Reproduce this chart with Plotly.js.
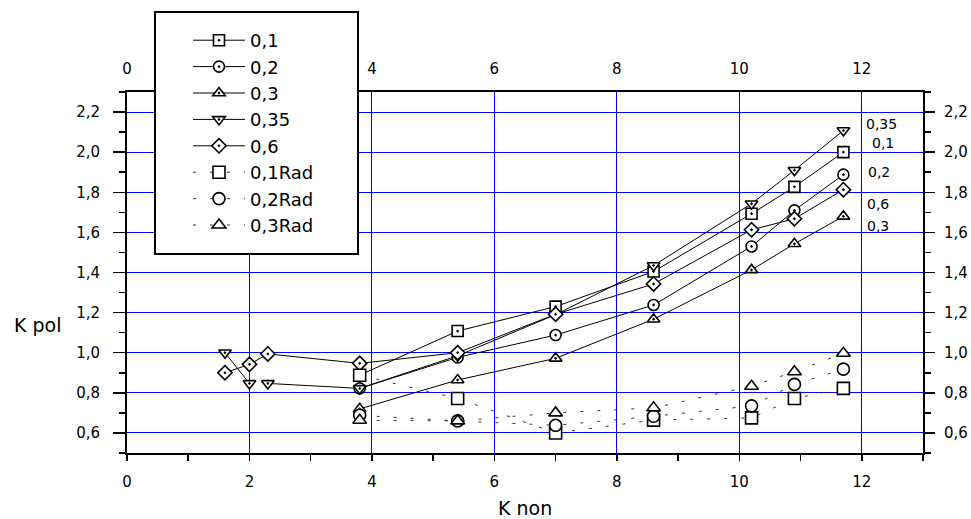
<!DOCTYPE html>
<html>
<head>
<meta charset="utf-8">
<script src="https://cdn.plot.ly/plotly-3.0.1.min.js"></script>
<style>html,body{margin:0;padding:0;background:#fff;}#chart{width:971px;height:519px;}</style>
</head>
<body>
<div id="chart"></div>
<script>
// ---- data ----
var seriesNames = ["0,1", "0,2", "0,3", "0,35", "0,6", "0,1Rad", "0,2Rad", "0,3Rad"];
var xMain = [3.8, 5.4, 7.0, 8.6, 10.2, 10.9, 11.7];
var xLong = [1.6, 2.0, null, 2.3, 3.8, 5.4, 7.0, 8.6, 10.2, 10.9, 11.7];
var xLong6 = [1.6, 2.0, 2.3, 3.8, 5.4, 7.0, 8.6, 10.2, 10.9, 11.7];
var y01 = [0.888, 1.108, 1.230, 1.405, 1.693, 1.827, 2.000];
var y02 = [0.822, 0.977, 1.088, 1.238, 1.530, 1.710, 1.888];
var y03 = [0.720, 0.864, 0.972, 1.167, 1.413, 1.543, 1.680];
var y035 = [1.000, 0.847, null, 0.847, 0.822, 0.985, 1.190, 1.435, 1.743, 1.910, 2.108];
var y06 = [0.900, 0.942, 0.994, 0.947, 1.000, 1.192, 1.343, 1.613, 1.668, 1.813];
var y01Rad = [0.888, 0.772, 0.600, 0.664, 0.675, 0.772, 0.822];
var y02Rad = [0.688, 0.660, 0.638, 0.683, 0.735, 0.842, 0.918];
var y03Rad = [0.663, 0.660, 0.700, 0.725, 0.833, 0.905, 0.997];
var topTickVals = [0, 4, 6, 8, 10, 12];   // the "2" is hidden behind the legend box
var endLabels = ["0,35", "0,1", "0,2", "0,6", "0,3"];
var endLabelX = [12.03, 12.14, 12.07, 12.05, 12.05];
var endLabelY = [2.14, 2.045, 1.90, 1.74, 1.63];
var xTitle = "K non";
var yTitle = "K pol";

var FONT = "DejaVu Sans";
function solid(name, x, y, sym) {
  return {
    type: "scatter", mode: "lines+markers", name: name, x: x, y: y,
    connectgaps: false,
    line: {color: "#000", width: 1},
    marker: {symbol: sym, size: 11, color: "#fff", line: {color: "#000", width: 1.6}}
  };
}
function dashed(name, x, y, sym) {
  return {
    type: "scatter", mode: "lines+markers", name: name, x: x, y: y,
    line: {color: "#333", width: 1, dash: "3px,14px"},
    marker: {symbol: sym, size: 12, color: "#fff", line: {color: "#000", width: 1.6}}
  };
}
var data = [
  solid(seriesNames[0], xMain, y01, "square-dot"),
  solid(seriesNames[1], xMain, y02, "circle-dot"),
  solid(seriesNames[2], xMain, y03, "triangle-up-dot"),
  solid(seriesNames[3], xLong, y035, "triangle-down-dot"),
  solid(seriesNames[4], xLong6, y06, "diamond-dot"),
  dashed(seriesNames[5], xMain, y01Rad, "square"),
  dashed(seriesNames[6], xMain, y02Rad, "circle"),
  dashed(seriesNames[7], xMain, y03Rad, "triangle-up"),
  // empty trace so that the mirrored top / right axes are drawn
  {type: "scatter", mode: "markers", x: [], y: [], xaxis: "x2", yaxis: "y2", showlegend: false, hoverinfo: "skip"}
];

var annotations = endLabels.map(function (t, i) {
  return {x: endLabelX[i], y: endLabelY[i], xref: "x", yref: "y", text: t, showarrow: false,
          xanchor: "left", yanchor: "middle", font: {family: FONT, size: 14, color: "#000"}};
});
annotations.push({x: 0.5, y: -0.152, xref: "paper", yref: "paper", text: xTitle, showarrow: false,
  xanchor: "center", yanchor: "middle", font: {family: FONT, size: 19, color: "#000"}});
annotations.push({x: -0.1445, y: 0.355, xref: "paper", yref: "paper", text: yTitle, showarrow: false,
  xanchor: "left", yanchor: "middle", font: {family: FONT, size: 19, color: "#000"}});

var grid = "#0000ff";
var tf = {family: FONT, size: 15, color: "#000"};
var layout = {
  width: 971, height: 519,
  margin: {l: 127, r: 48, t: 92, b: 66},
  paper_bgcolor: "#fff", plot_bgcolor: "#fff",
  separators: ",.",
  font: {family: FONT, size: 15, color: "#000"},
  showlegend: true,
  legend: {
    x: (188 - 127) / 796, y: (453 - 22) / 361, xanchor: "left", yanchor: "top",
    bgcolor: "rgba(0,0,0,0)", borderwidth: 0, itemwidth: 52,
    font: {family: FONT, size: 18, color: "#000"}
  },
  shapes: [{
    type: "rect", xref: "paper", yref: "paper", layer: "above",
    x0: (155 - 127) / 796, x1: (358 - 127) / 796, y0: (453 - 254) / 361, y1: (453 - 12) / 361,
    fillcolor: "#fff", line: {color: "#000", width: 2}
  }],
  annotations: annotations,
  xaxis: {
    range: [0, 13], tick0: 0, dtick: 2, ticks: "outside", ticklen: 6, tickwidth: 1.5, tickcolor: "#000",
    ticklabelstandoff: 8,
    minor: {dtick: 1, ticks: "outside", ticklen: 6, tickwidth: 1.5, tickcolor: "#000", showgrid: false},
    showline: true, linewidth: 2, linecolor: "#000",
    showgrid: true, gridcolor: grid, gridwidth: 1, zeroline: false,
    tickfont: tf
  },
  xaxis2: {
    overlaying: "x", side: "top", anchor: "y2", range: [0, 13], tickmode: "array", tickvals: topTickVals,
    ticks: "", ticklabelstandoff: 10,
    showline: true, linewidth: 2, linecolor: "#000", showgrid: false, zeroline: false,
    tickfont: tf
  },
  yaxis: {
    range: [0.5, 2.3], tick0: 0, dtick: 0.2, tickformat: ".1f",
    ticks: "outside", ticklen: 12, tickwidth: 1.5, tickcolor: "#000", ticklabelstandoff: 10,
    minor: {dtick: 0.1, ticks: "outside", ticklen: 6, tickwidth: 1.5, tickcolor: "#000", showgrid: false},
    showline: true, linewidth: 2, linecolor: "#000",
    showgrid: true, gridcolor: grid, gridwidth: 1, zeroline: false,
    tickfont: tf
  },
  yaxis2: {
    overlaying: "y", side: "right", anchor: "x2", range: [0.5, 2.3], tick0: 0, dtick: 0.2, tickformat: ".1f",
    ticks: "outside", ticklen: 10, tickwidth: 1.5, tickcolor: "#000", ticklabelstandoff: 6,
    minor: {dtick: 0.1, ticks: "outside", ticklen: 6, tickwidth: 1.5, tickcolor: "#000", showgrid: false},
    showline: true, linewidth: 2, linecolor: "#000", showgrid: false, zeroline: false,
    tickfont: tf
  }
};

Plotly.newPlot("chart", data, layout, {displayModeBar: false, staticPlot: true});
</script>
</body>
</html>
